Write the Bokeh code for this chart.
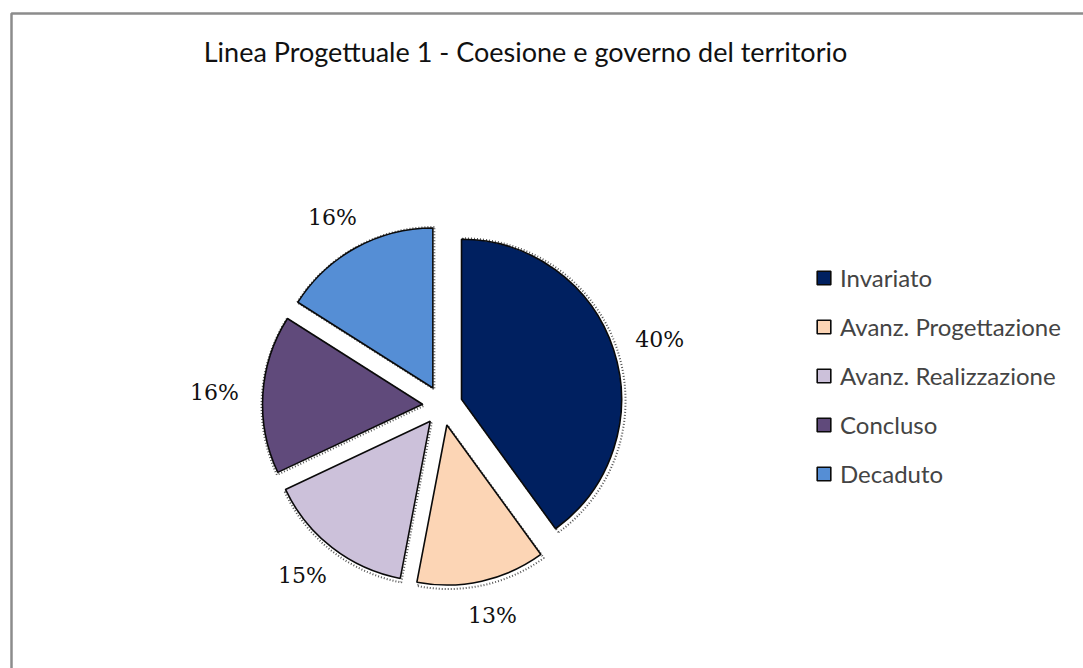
import numpy as np
from bokeh.plotting import figure
from bokeh.models import Range1d, ColumnDataSource, Legend, LegendItem
from bokeh.embed import file_html
from bokeh.resources import INLINE
from bokeh.core.properties import value

# ---- data ----
categories = ["Invariato", "Avanz. Progettazione", "Avanz. Realizzazione", "Concluso", "Decaduto"]
percent = [40, 13, 15, 16, 16]
colors = ["#002060", "#FCD5B5", "#CCC1DA", "#604A7B", "#558ED5"]
title_text = "Linea Progettuale 1 - Coesione e governo del territorio"

# ---- layout constants (pixels) ----
W, H = 1083, 668
CX, CY = 442, H - 405      # pie centre
R = 160                    # pie radius
EXPLODE = 20               # explosion distance
LABEL_EDGE = 205           # distance from centre to the label box edge
LBL_W, LBL_H = 47, 20      # approximate label box size

frac = np.array(percent, dtype=float) / sum(percent)
cum_after = np.cumsum(frac)
cum_before = cum_after - frac
mid = cum_before + frac / 2
start = np.pi / 2 - 2 * np.pi * cum_after
end = np.pi / 2 - 2 * np.pi * cum_before
mid_ang = np.pi / 2 - 2 * np.pi * mid
ux, uy = np.cos(mid_ang), np.sin(mid_ang)

src = ColumnDataSource(dict(
    cat=categories,
    x=CX + EXPLODE * ux,
    y=CY + EXPLODE * uy,
    xs=CX + EXPLODE * ux + 1.5,
    ys=CY + EXPLODE * uy - 1.5,
    start=start, end=end, color=colors,
    lx=CX + LABEL_EDGE * ux + LBL_W / 2 * ux,
    ly=CY + LABEL_EDGE * uy + LBL_H / 2 * uy,
    lab=[f"{v}%" for v in percent],
))

p = figure(width=W, height=H, x_range=Range1d(0, W), y_range=Range1d(0, H),
           output_backend="svg", toolbar_location=None, min_border=0,
           x_axis_location=None, y_axis_location=None)
p.grid.visible = False
p.outline_line_color = None
p.background_fill_color = "white"
p.border_fill_color = "white"

# chart frame (extends beyond the right/bottom edges)
p.quad(left=11, right=W + 30, bottom=-30, top=H - 13, fill_color=None,
       line_color="#8c8c8c", line_width=2.5)

# stipple shadow
p.wedge(x="xs", y="ys", radius=R + 2.5, start_angle="start", end_angle="end",
        source=src, fill_color=None, line_color="#555555", line_width=2,
        line_dash="1 2")

wedges = p.wedge(x="x", y="y", radius=R, start_angle="start", end_angle="end",
                 source=src, fill_color="color", line_color="#0a0a0a", line_width=1.6)

p.text(x="lx", y="ly", text="lab", source=src, text_align="center",
       text_baseline="middle", text_font=value("DejaVu Serif"),
       text_font_size="22px", text_color="#111111")

p.text(x=[525], y=[H - 51], text=[title_text], text_align="center",
       text_baseline="middle", text_font=value("Lato"), text_font_size="27px",
       text_color="#111111")

items = [LegendItem(label=c, renderers=[wedges], index=i) for i, c in enumerate(categories)]
legend = Legend(items=items, location=(815, 180), orientation="vertical",
                glyph_width=17, glyph_height=17, label_text_font="Lato",
                label_text_font_size="24px", label_height=28, spacing=20,
                label_standoff=8, padding=0, margin=0,
                border_line_color=None, background_fill_alpha=0)
p.add_layout(legend, "center")

open("out.html", "w").write(file_html(p, INLINE))
